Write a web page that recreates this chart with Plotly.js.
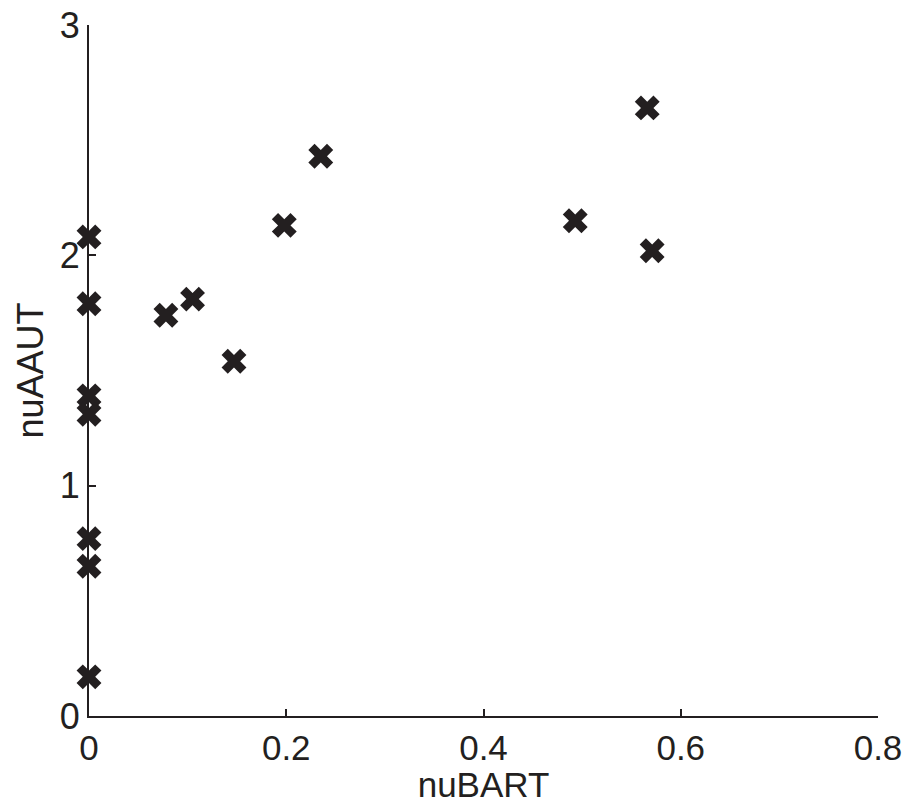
<!DOCTYPE html>
<html>
<head>
<script src="https://cdn.plot.ly/plotly-3.0.1.min.js"></script>
<style>html,body{margin:0;padding:0;background:#fff;}#chart{width:915px;height:804px;}</style>
</head>
<body>
<div id="chart"></div>
<script>
const nuBART = [0, 0, 0, 0, 0, 0, 0, 0.078, 0.105, 0.147, 0.198, 0.235, 0.493, 0.566, 0.571];
const nuAAUT = [2.08, 1.79, 1.39, 1.31, 0.77, 0.65, 0.17, 1.74, 1.81, 1.54, 2.13, 2.43, 2.15, 2.64, 2.02];
const xTicks = [0, 0.2, 0.4, 0.6, 0.8];
const yTicks = [0, 1, 2, 3];

const ink = '#231f20';
const trace = {
  x: nuBART, y: nuAAUT, mode: 'markers', type: 'scatter',
  marker: {symbol: 'x', size: 22, color: ink, line: {width: 0}},
  cliponaxis: false, hoverinfo: 'skip'
};
const family = 'Liberation Sans, Arial, sans-serif';
const font = {family: family, size: 36, color: ink};
const xfont = {family: family, size: 35, color: ink};
const layout = {
  width: 915, height: 804,
  margin: {l: 89, r: 37, t: 25, b: 88},
  paper_bgcolor: '#fff', plot_bgcolor: '#fff',
  showlegend: false,
  font: font,
  xaxis: {
    range: [0, 0.8], tickvals: xTicks, ticktext: xTicks.map(String),
    showline: true, linecolor: ink, linewidth: 2, showgrid: false, zeroline: false,
    ticks: 'inside', ticklen: 7, tickcolor: ink, tickwidth: 2,
    tickfont: xfont, title: {text: 'nuBART', font: xfont, standoff: 2}
  },
  yaxis: {
    range: [0, 3], tickvals: yTicks, ticktext: yTicks.map(String),
    showline: true, linecolor: ink, linewidth: 2, showgrid: false, zeroline: false,
    ticks: 'inside', ticklen: 7, tickcolor: ink, tickwidth: 2,
    tickfont: font, title: {text: 'nuAAUT', font: font, standoff: 5}
  }
};
Plotly.newPlot('chart', [trace], layout, {staticPlot: true});
</script>
</body>
</html>
